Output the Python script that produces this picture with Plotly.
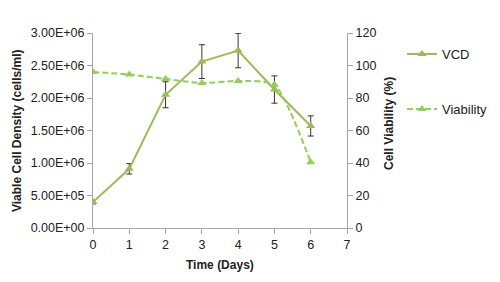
import plotly.graph_objects as go

days = [0, 1, 2, 3, 4, 5, 6]
vcd = [4.0e5, 9.1e5, 2.05e6, 2.56e6, 2.73e6, 2.13e6, 1.57e6]
vcd_err = [3e4, 8e4, 2.0e5, 2.6e5, 2.65e5, 2.1e5, 1.55e5]
viability = [96, 94.5, 91.7, 89.2, 90.5, 88.2, 40.5]

y_ticks = [0, 5e5, 1e6, 1.5e6, 2e6, 2.5e6, 3e6]
y_ticklabels = ["0.00E+00", "5.00E+05", "1.00E+06", "1.50E+06", "2.00E+06", "2.50E+06", "3.00E+06"]

W, H = 500, 282
OFF = 8  # page body margin offset
L, R, T, B = 92.7, 346.7, 33.3, 228.3
pw, ph = R - L, B - T

def px2x(x):
    return (x - L) / pw

def px2y(y):
    return (B - y) / ph

font = "Liberation Sans, Arial, sans-serif"
vcd_col = "#9BBB59"
via_col = "#92D050"
axis_col = "#A6A6A6"

fig = go.Figure()
fig.add_trace(go.Scatter(
    x=days, y=viability, name="Viability", yaxis="y2", mode="lines+markers",
    line=dict(color=via_col, width=2, dash="6px,3px", shape="spline", smoothing=0.6),
    marker=dict(symbol="triangle-up", size=8, color=via_col),
    legend="legend2", showlegend=True,
))
fig.add_trace(go.Scatter(
    x=days, y=vcd, name="VCD", mode="lines+markers",
    line=dict(color=vcd_col, width=2),
    marker=dict(symbol="triangle-up", size=8, color=vcd_col),
    error_y=dict(type="data", array=vcd_err, color="#333333", thickness=1, width=3),
    legend="legend", showlegend=True,
))

tickfont = dict(family=font, size=12.5, color="#222222")
legfont = dict(family=font, size=13, color="#222222")
titlefont = dict(family=font, size=12, color="#222222")
fig.update_layout(
    width=W, height=H, showlegend=True,
    margin=dict(l=L - OFF, r=W - (R - OFF), t=T - OFF, b=H - (B - OFF), pad=0,
                autoexpand=False),
    plot_bgcolor="white", paper_bgcolor="white",
    xaxis=dict(range=[0, 7], tickvals=list(range(8)), showgrid=False, zeroline=False,
               showline=True, linecolor=axis_col, linewidth=1, ticks="outside",
               ticklen=5, tickcolor=axis_col, tickfont=tickfont, automargin=False),
    yaxis=dict(range=[0, 3e6], tickvals=y_ticks, ticktext=y_ticklabels, showgrid=False,
               zeroline=False, showline=True, linecolor=axis_col, linewidth=1,
               ticks="outside", ticklen=5, tickcolor=axis_col, tickfont=tickfont,
               automargin=False),
    yaxis2=dict(range=[0, 120], tickvals=[0, 20, 40, 60, 80, 100, 120], overlaying="y",
                side="right", showgrid=False, zeroline=False, showline=True,
                linecolor=axis_col, linewidth=1, ticks="outside", ticklen=5,
                tickcolor=axis_col, tickfont=tickfont, automargin=False),
    legend=dict(xref="container", yref="container", x=(402 - OFF) / W,
                y=1 - (54 - OFF) / H, xanchor="left", yanchor="middle", font=legfont,
                bgcolor="rgba(0,0,0,0)"),
    legend2=dict(xref="container", yref="container", x=(402 - OFF) / W,
                 y=1 - (109 - OFF) / H, xanchor="left", yanchor="middle", font=legfont,
                 bgcolor="rgba(0,0,0,0)"),
    annotations=[
        dict(text="<b>Viable Cell Density (cells/ml)</b>", x=px2x(16), y=px2y(131),
             xref="paper", yref="paper", textangle=-90, showarrow=False,
             xanchor="center", yanchor="middle", font=titlefont),
        dict(text="<b>Cell Viability (%)</b>", x=px2x(388), y=px2y(124),
             xref="paper", yref="paper", textangle=-90, showarrow=False,
             xanchor="center", yanchor="middle", font=titlefont),
        dict(text="<b>Time (Days)</b>", x=px2x(220), y=px2y(265),
             xref="paper", yref="paper", showarrow=False,
             xanchor="center", yanchor="middle", font=titlefont),
    ],
)
fig.write_html("out.html")
